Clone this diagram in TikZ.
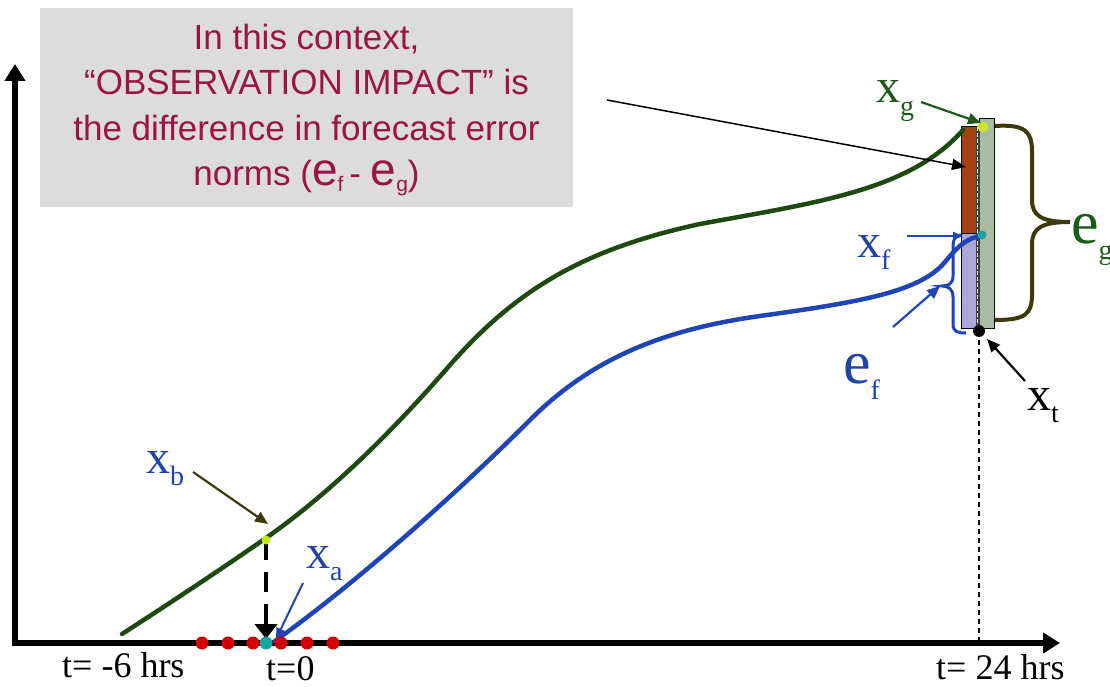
\documentclass[tikz,border=0pt]{standalone}
\usepackage{fontspec}
\setmainfont{Liberation Serif}
\newfontfamily\arialf{Liberation Sans}
\usetikzlibrary{arrows.meta}
\definecolor{gcurve}{HTML}{1E4A12}
\definecolor{bcurve}{HTML}{1F45B5}
\definecolor{blab}{HTML}{2242AA}
\definecolor{olivec}{HTML}{3C3A0C}
\definecolor{glab}{HTML}{1C5A1C}
\definecolor{brownbar}{HTML}{A3410F}
\definecolor{lavbar}{HTML}{AAA8D8}
\definecolor{gbar}{HTML}{A8BCA4}
\definecolor{boxgray}{HTML}{DCDCDC}
\definecolor{boxtext}{HTML}{9C1446}
\definecolor{reddot}{HTML}{D40000}
\definecolor{tealdot}{HTML}{1AA3A3}
\definecolor{ygdot}{HTML}{C8E628}
\newcommand\xsub[2]{#1\raisebox{-0.27em}{\fontsize{28}{28}\selectfont #2}}
\begin{document}
\begin{tikzpicture}[x=1pt,y=-1pt,
  lbl/.style={inner sep=0pt, anchor=base west},
  xfont/.style={font=\fontsize{48}{48}\selectfont},
  efont/.style={font=\fontsize{62}{62}\selectfont},
  tfont/.style={font=\fontsize{36}{36}\selectfont},
  dotst/.style={circle, inner sep=0pt, minimum size=13pt},
  barst/.style={draw=black, line width=0.8pt},
  thinarrow/.style={line width=2.2pt, -{Triangle[length=13pt,width=11pt]}},
  axis/.style={line width=6pt, -{Triangle[length=17pt,width=20pt]}}
]
\useasboundingbox (0,0) rectangle (1110,687);

% axes
\coordinate (ytop) at (15,64);
\coordinate (xl) at (12,643);
\coordinate (xr) at (1060,643);
\draw[axis] (15,646) -- (ytop);
\draw[axis] (xl) -- (xr);

% text box
\node[fill=boxgray, minimum width=533pt, minimum height=199pt, inner sep=0pt] (box) at (306.5,107.5) {};
\node[text=boxtext, align=center, inner sep=0pt, font=\arialf\fontsize{35}{45.5}\selectfont] (boxtxt) at (306.5,110)
 {In this context,\\“OBSERVATION IMPACT” is\\the difference in forecast error\\norms ({\fontsize{46}{46}\selectfont e}\raisebox{-6pt}{\fontsize{21}{21}\selectfont f}\,- {\fontsize{46}{46}\selectfont e}\raisebox{-6pt}{\fontsize{21}{21}\selectfont g})};

% vertical dashed line at t=24
\coordinate (xt) at (979,331);
\coordinate (xtaxis) at (979,643);
\draw[black, line width=1.5pt, dash pattern=on 5pt off 4pt] (xt) -- (xtaxis);

% bars
\draw[barst, fill=gbar] (979.5,118) rectangle (994,328);
\draw[barst, fill=brownbar] (961,126) rectangle (976,233);
\draw[barst, fill=lavbar] (961,233) rectangle (976,328);
\fill[black!75] (976,126) rectangle (979.5,328);
\draw[white, line width=1.2pt, dash pattern=on 4pt off 2pt] (977.7,127) -- (977.7,327);

% curves
\draw[gcurve, line width=4.5pt, line cap=round] (122,634) .. controls (170,603) and (220,570) .. (266,538)
  .. controls (330,493) and (390,434) .. (450,365)
  .. controls (520,285) and (590,248) .. (700,224)
  .. controls (820,202) and (910,190) .. (963,130);
\draw[bcurve, line width=4.5pt, line cap=round] (275,641) .. controls (360,580) and (460,490) .. (530,420)
  .. controls (590,360) and (660,330) .. (760,316)
  .. controls (860,302) and (920,292) .. (945,262)
  .. controls (958,246) and (968,237) .. (982,236);

% dashed analysis arrow
\coordinate (xbdot) at (266,540);
\coordinate (xabase) at (266,639);
\draw[black, line width=4pt, dash pattern=on 20pt off 12pt, -{Triangle[length=15pt,width=22pt]}] (xbdot) -- (xabase);

% dots
\node[dotst, fill=reddot] (d1) at (202,643) {};
\node[dotst, fill=reddot] (d2) at (228,643) {};
\node[dotst, fill=reddot] (d3) at (253,643) {};
\node[dotst, fill=reddot] (d4) at (281,643) {};
\node[dotst, fill=reddot] (d5) at (307,643) {};
\node[dotst, fill=reddot] (d6) at (333,643) {};
\node[dotst, fill=tealdot] (da) at (266,643) {};
\node[circle, inner sep=0pt, minimum size=9pt, fill=ygdot] (db) at (266,540) {};
\node[circle, inner sep=0pt, minimum size=9pt, fill=tealdot] (df) at (982,235) {};
\node[circle, inner sep=0pt, minimum size=11pt, fill=ygdot] (dg) at (983,127) {};
\node[circle, inner sep=0pt, minimum size=12pt, fill=black] (dt) at (xt) {};

% labels
\node[lbl, xfont, text=blab] (xb) at (146,473) {\xsub{x}{b}};
\node[lbl, xfont, text=blab] (xa) at (306,568) {\xsub{x}{a}};
\node[lbl, xfont, text=blab] (xf) at (857,257) {\xsub{x}{f}};
\node[lbl, xfont, text=glab] (xg) at (876,103) {\xsub{x}{g}};
\node[lbl, xfont, text=black] (xtl) at (1027,410) {\xsub{x}{t}};
\node[lbl, efont, text=blab] (ef) at (843,383) {\xsub{e}{f}};
\node[lbl, efont, text=glab] (eg) at (1071,243) {\xsub{e}{g}};
\node[lbl, tfont] (tm6) at (62,677) {t= -6 hrs};
\node[lbl, tfont] (t0) at (266,680) {t=0};
\node[lbl, tfont] (t24) at (936,679) {t= 24 hrs};

% arrows from labels
\coordinate (xbs) at (193,472);
\coordinate (xbe) at (268,524);
\draw[olivec, thinarrow] (xbs) -- (xbe);
\coordinate (xas) at (303,583);
\coordinate (xae) at (276,639);
\draw[bcurve, line width=2pt, -{Triangle[length=11pt,width=9pt]}] (xas) -- (xae);
\coordinate (xgs) at (921,102);
\coordinate (xge) at (981,123);
\draw[glab, thinarrow] (xgs) -- (xge);
\coordinate (xts) at (1025,381);
\coordinate (xte) at (987,339);
\draw[black, thinarrow] (xts) -- (xte);
\coordinate (efs) at (893,327);
\coordinate (efe) at (940,286);
\draw[bcurve, thinarrow] (efs) -- (efe);
\coordinate (xfs) at (907,236);
\coordinate (xfe) at (963,236);
\draw[bcurve, line width=2.2pt, -{Triangle[length=10pt,width=8pt]}] (xfs) -- (xfe);
\coordinate (boxs) at (607,100);
\coordinate (boxe) at (966,167);
\draw[black, line width=1.5pt, -{Triangle[length=14pt,width=11pt]}] (boxs) -- (boxe);

% braces
\draw[olivec, line width=4pt] (995,126) .. controls (1026,124) and (1032,132) .. (1032,152) -- (1032,200)
  .. controls (1032,216) and (1042,222) .. (1070,222)
  .. controls (1042,222) and (1032,228) .. (1032,244) -- (1032,294)
  .. controls (1032,314) and (1026,320) .. (995,320);
\draw[bcurve, line width=3pt] (961,235) .. controls (954,236) and (953,240) .. (953,250) -- (953,276)
  .. controls (953,284) and (948,286) .. (942,286)
  .. controls (948,286) and (953,289) .. (953,297) -- (953,324)
  .. controls (953,332) and (958,333) .. (966,333);
\end{tikzpicture}
\end{document}
